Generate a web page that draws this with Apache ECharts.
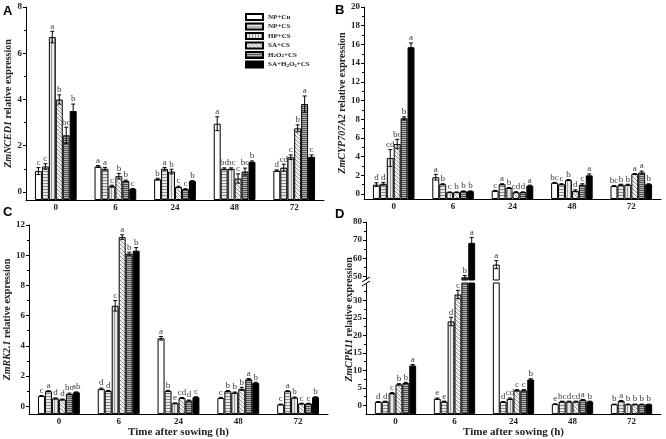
<!DOCTYPE html>
<html><head><meta charset="utf-8">
<script src="https://cdn.jsdelivr.net/npm/echarts@6/dist/echarts.min.js"></script>
<style>html,body{margin:0;padding:0;background:#fff}#c{width:666px;height:439px}</style>
</head><body><div id="c"></div>
<script>
// ---------------- DATA ----------------
const categories = ['0', '6', '24', '48', '72'];
const seriesNames = ['NP+Cu', 'NP+CS', 'HP+CS', 'SA+CS', 'H2O2+CS', 'SA+H2O2+CS'];

// Panel A: ZmNCED1
const aValues = [
  [0.9, 1.1, 0.55, 2.95, 0.92],
  [1.1, 1.0, 1.0, 1.0, 1.05],
  [6.7, 0.25, 0.88, 1.0, 1.5],
  [4.0, 0.68, 0.22, 0.58, 2.75],
  [2.45, 0.48, 0.12, 0.88, 3.8],
  [3.5, 0.13, 0.47, 1.3, 1.52]
];
const aErrors = [
  [0.15, 0.04, 0.04, 0.3, 0.03],
  [0.12, 0.06, 0.06, 0.04, 0.15],
  [0.25, 0.04, 0.1, 0.04, 0.1],
  [0.2, 0.12, 0.03, 0.2, 0.15],
  [0.35, 0.03, 0.02, 0.15, 0.35],
  [0.3, 0.02, 0.02, 0.04, 0.08]
];
const aLetters = [
  ['c', 'a', 'b', 'a', 'd'],
  ['c', 'a', 'a', 'bc', 'cd'],
  ['a', 'c', 'b', 'bc', 'c'],
  ['b', 'b', 'c', 'c', 'b'],
  ['bc', 'b', 'c', 'bc', 'a'],
  ['b', 'c', 'b', 'b', 'c']
];
const aTicks = [0, 2, 4, 6, 8];
const aMinorTicks = [1, 3, 5, 7];

// Panel B: ZmCYP707A2
const bValues = [
  [1.0, 1.8, 0.35, 1.2, 0.85],
  [1.1, 1.05, 1.05, 1.05, 1.0],
  [3.85, 0.2, 0.65, 1.5, 1.0],
  [5.35, 0.2, 0.2, 0.35, 2.15],
  [8.1, 0.3, 0.2, 1.0, 2.3],
  [15.7, 0.3, 0.9, 2.0, 1.05]
];
const bErrors = [
  [0.2, 0.3, 0.05, 0.05, 0.05],
  [0.15, 0.05, 0.05, 0.05, 0.05],
  [0.9, 0.02, 0.05, 0.05, 0.05],
  [0.5, 0.02, 0.05, 0.1, 0.05],
  [0.15, 0.03, 0.03, 0.1, 0.15],
  [0.45, 0.03, 0.05, 0.15, 0.05]
];
const bLetters = [
  ['d', 'a', 'c', 'bc', 'bc'],
  ['d', 'b', 'a', 'c', 'b'],
  ['cd', 'c', 'b', 'b', 'b'],
  ['bc', 'b', 'cd', 'd', 'a'],
  ['b', 'b', 'd', 'c', 'a'],
  ['a', 'b', 'a', 'a', 'b']
];
const bTicks = [0, 2, 4, 6, 8, 10, 12, 14, 16, 18, 20];
const bMinorTicks = [1, 3, 5, 7, 9, 11, 13, 15, 17, 19];

// Panel C: ZmRK2.1
const cValues = [
  [0.68, 1.15, 4.5, 0.55, 0.12],
  [1.0, 1.02, 1.02, 1.0, 1.0],
  [0.52, 6.65, 0.2, 0.9, 0.58],
  [0.45, 11.2, 0.55, 1.15, 0.18],
  [0.82, 10.1, 0.38, 1.78, 0.18],
  [0.92, 10.3, 0.6, 1.55, 0.6]
];
const cErrors = [
  [0.03, 0.05, 0.12, 0.04, 0.02],
  [0.03, 0.03, 0.03, 0.04, 0.03],
  [0.03, 0.35, 0.02, 0.04, 0.03],
  [0.03, 0.15, 0.03, 0.1, 0.02],
  [0.05, 0.1, 0.03, 0.05, 0.02],
  [0.03, 0.2, 0.03, 0.04, 0.03]
];
const cLetters = [
  ['c', 'd', 'a', 'c', 'c'],
  ['a', 'd', 'b', 'b', 'a'],
  ['d', 'c', 'e', 'b', 'b'],
  ['d', 'a', 'cd', 'b', 'c'],
  ['bc', 'b', 'd', 'a', 'c'],
  ['ab', 'b', 'c', 'b', 'b']
];
const cTicks = [0, 2, 4, 6, 8, 10, 12];
const cMinorTicks = [1, 3, 5, 7, 9, 11];

// Panel D: ZmCPK11 (broken axis)
const dValues = [
  [1.0, 1.9, 56.5, 0.35, 0.3],
  [1.1, 1.1, 1.0, 1.1, 1.3],
  [3.5, 24, 1.9, 1.1, 0.3],
  [6.0, 31.7, 4.3, 1.1, 0.3],
  [6.4, 49.5, 4.3, 1.6, 0.3],
  [11.4, 68.5, 7.4, 1.1, 0.3]
];
const dErrors = [
  [0.1, 0.2, 2.2, 0.1, 0.05],
  [0.1, 0.1, 0.1, 0.1, 0.1],
  [0.2, 1.2, 0.2, 0.1, 0.05],
  [0.2, 1.2, 0.2, 0.1, 0.05],
  [0.2, 1.0, 0.2, 0.1, 0.05],
  [0.3, 3.0, 0.2, 0.1, 0.05]
];
const dLetters = [
  ['d', 'e', 'a', 'e', 'b'],
  ['d', 'e', 'd', 'bc', 'a'],
  ['c', 'd', 'cd', 'd', 'b'],
  ['b', 'c', 'c', 'cd', 'b'],
  ['b', 'b', 'c', 'a', 'b'],
  ['a', 'a', 'b', 'b', 'b']
];
const dLowTicks = [0, 5, 10, 15, 20, 25, 30];
const dLowMinorTicks = [2.5, 7.5, 12.5, 17.5, 22.5, 27.5, 32.5];
const dHighTicks = [50, 60, 70, 80];
const dHighMinorTicks = [55, 65, 75];

// ---------------- STYLE ----------------
const SERIF = 'Liberation Serif';
const GAP = 0.3;

function pattern(w, h, bg, draw) {
  const cv = document.createElement('canvas');
  cv.width = w; cv.height = h;
  const ctx = cv.getContext('2d');
  ctx.fillStyle = bg; ctx.fillRect(0, 0, w, h);
  draw(ctx);
  return { image: cv, repeat: 'repeat' };
}
const fills = [
  '#ffffff',
  pattern(4, 3, '#e8e8e8', c => { c.fillStyle = '#8a8a8a'; c.fillRect(0, 0, 4, 1); }),
  pattern(3, 4, '#e8e8e8', c => { c.fillStyle = '#9a9a9a'; c.fillRect(0, 0, 1, 4); }),
  pattern(4, 4, '#f0f0f0', c => { c.fillStyle = '#959595'; for (let i = 0; i < 4; i++) c.fillRect(i, i, 1, 1); }),
  pattern(4, 2, '#b4b4b4', c => { c.fillStyle = '#555555'; c.fillRect(0, 0, 4, 1); }),
  '#000000'
];

const grids = [
  { left: 26, top: 7, width: 298, height: 193 },   // A
  { left: 364, top: 7, width: 297, height: 192 },  // B
  { left: 29, top: 225, width: 299, height: 192 }, // C
  { left: 366, top: 222, width: 295, height: 58 }, // D upper
  { left: 366, top: 283, width: 295, height: 134 },// D lower
  { left: 366, top: 222, width: 295, height: 195 } // D name holder
];

const xAxes = [];
const yAxes = [];
const series = [];
const catLabel = { margin: 3, fontFamily: SERIF, fontWeight: 'bold', fontSize: 9, color: '#222' };
const nameStyle = { fontFamily: SERIF, fontWeight: 'bold', fontSize: 10, color: '#222',
  rich: { i: { fontFamily: SERIF, fontWeight: 'bold', fontStyle: 'italic', fontSize: 10, color: '#222' } } };

function addX(gridIndex, show, name) {
  xAxes.push({
    type: 'category', gridIndex, data: categories, show,
    axisLine: { onZero: false, lineStyle: { color: '#000', width: 1 } },
    axisTick: { show: false },
    axisLabel: catLabel,
    name: name || '', nameLocation: 'middle', nameGap: 10,
    nameTextStyle: { fontFamily: SERIF, fontWeight: 'bold', fontSize: 11, color: '#222' }
  });
  return xAxes.length - 1;
}
function addY(gridIndex, min, max, major, minor, name, nameGap, base) {
  const ax = {
    type: 'value', gridIndex, min, max, position: 'left',
    axisLine: { show: true, onZero: false, lineStyle: { color: '#000', width: 1 } },
    axisTick: { show: true, customValues: major, length: 3, lineStyle: { color: '#000' } },
    axisLabel: { customValues: major, margin: 4, fontFamily: SERIF, fontWeight: 'bold', fontSize: 9, color: '#222' },
    splitLine: { show: false },
    name: name || '', nameLocation: 'middle', nameGap: nameGap || 10, nameTextStyle: nameStyle
  };
  if (base !== undefined) ax.startValue = base;
  yAxes.push(ax);
  const idx = yAxes.length - 1;
  yAxes.push({
    type: 'value', gridIndex, min, max, position: 'left',
    axisLine: { show: false },
    axisTick: { show: true, customValues: minor, length: 2, lineStyle: { color: '#000' } },
    axisLabel: { show: false },
    splitLine: { show: false }
  });
  return idx;
}
function addBars(xi, yi, values) {
  values.forEach((vals, s) => {
    series.push({
      type: 'bar', name: seriesNames[s], xAxisIndex: xi, yAxisIndex: yi,
      data: vals, barGap: '0%', barCategoryGap: (GAP * 100) + '%', clip: true,
      itemStyle: { color: fills[s], borderColor: '#000', borderWidth: 1 },
      emphasis: { disabled: true }
    });
  });
}
function addErr(xi, yi, values, errors, letters, keep) {
  const rows = [], lets = [];
  values.forEach((vals, s) => vals.forEach((v, i) => {
    if (keep(v)) { rows.push([i, v, errors[s][i], s]); lets.push(letters[s][i]); }
  }));
  series.push({
    type: 'custom', xAxisIndex: xi, yAxisIndex: yi, data: rows, silent: true, z: 10, clip: false,
    renderItem(params, api) {
      const i = api.value(0), v = api.value(1), e = api.value(2), s = api.value(3);
      const band = api.size([1, 0])[0];
      const group = band * (1 - GAP);
      const bw = group / 6;
      const c = api.coord([i, v]);
      const x = c[0] - group / 2 + bw * (s + 0.5);
      const top = api.coord([i, v + e])[1];
      const bot = api.coord([i, v - e])[1];
      const cap = 2;
      const ls = { stroke: '#000', lineWidth: 1 };
      return { type: 'group', children: [
        { type: 'line', shape: { x1: x, y1: top, x2: x, y2: bot }, style: ls },
        { type: 'line', shape: { x1: x - cap, y1: top, x2: x + cap, y2: top }, style: ls },
        { type: 'line', shape: { x1: x - cap, y1: bot, x2: x + cap, y2: bot }, style: ls },
        { type: 'text', x: x, y: top - 0.5, style: { text: lets[params.dataIndex], textAlign: 'center',
          textVerticalAlign: 'bottom', fontFamily: SERIF, fontSize: 9, fill: '#3a3a3a' } }
      ] };
    }
  });
}

// A
let xi = addX(0, true), yi = addY(0, -0.35, 8, aTicks, aMinorTicks, '{i|ZmNCED1} relative expression', 6, -0.35);
addBars(xi, yi, aValues); addErr(xi, yi, aValues, aErrors, aLetters, () => true);
// B
xi = addX(1, true); yi = addY(1, -0.53, 20, bTicks, bMinorTicks, '{i|ZmCYP707A2} relative expression', 12, -0.53);
addBars(xi, yi, bValues); addErr(xi, yi, bValues, bErrors, bLetters, () => true);
// C
xi = addX(2, true, 'Time after sowing (h)'); yi = addY(2, -0.52, 12, cTicks, cMinorTicks, '{i|ZmRK2.1} relative expression', 10, -0.52);
addBars(xi, yi, cValues); addErr(xi, yi, cValues, cErrors, cLetters, () => true);
// D upper
xi = addX(3, false); yi = addY(3, 48, 80, dHighTicks, dHighMinorTicks, '', 10);
addBars(xi, yi, dValues); addErr(xi, yi, dValues, dErrors, dLetters, v => v >= 40);
// D lower
xi = addX(4, true, 'Time after sowing (h)'); yi = addY(4, -2.5, 35, dLowTicks, dLowMinorTicks, '', 10, -2.5);
addBars(xi, yi, dValues); addErr(xi, yi, dValues, dErrors, dLetters, v => v < 40);
// D name holder
addX(5, false);
yAxes.push({ type: 'value', gridIndex: 5, min: 0, max: 1, position: 'left',
  axisLine: { show: false }, axisTick: { show: false }, axisLabel: { show: false }, splitLine: { show: false },
  name: '{i|ZmCPK11} relative expression', nameLocation: 'middle', nameGap: 12, nameTextStyle: nameStyle });

const panelTitle = (t, l, tp) => ({ text: t, left: l, top: tp, padding: 0,
  textStyle: { fontFamily: 'Liberation Sans', fontWeight: 'bold', fontSize: 13, color: '#000' } });

const chart = echarts.init(document.getElementById('c'), null, { renderer: 'canvas' });
chart.setOption({
  animation: false,
  backgroundColor: '#fff',
  title: [panelTitle('A', 3, 5), panelTitle('B', 335, 4), panelTitle('C', 3, 206), panelTitle('D', 335, 208)],
  legend: {
    data: seriesNames, orient: 'vertical', left: 245, top: 13, padding: 0,
    itemWidth: 17, itemHeight: 6, itemGap: 1.5, icon: 'rect', selectedMode: false,
    formatter: n => n.replace(/H2O2/, 'H{s|2}O{s|2}'),
    textStyle: { fontFamily: SERIF, fontWeight: 'bold', fontSize: 7, color: '#222', lineHeight: 7,
      rich: { s: { fontFamily: SERIF, fontWeight: 'bold', fontSize: 5, color: '#222', verticalAlign: 'bottom', lineHeight: 7 } } }
  },
  grid: grids,
  xAxis: xAxes,
  yAxis: yAxes,
  series: series
});

// break marks on D's y axis
const yHighBottom = chart.convertToPixel({ yAxisIndex: 6 }, 48);
const yLowTop = chart.convertToPixel({ yAxisIndex: 8 }, 35);
const ax = grids[3].left;
chart.setOption({
  graphic: [
    { type: 'rect', shape: { x: ax - 4, y: yHighBottom, width: 8, height: yLowTop - yHighBottom }, style: { fill: '#fff' }, z: 50 },
    { type: 'line', shape: { x1: ax - 4, y1: yHighBottom + 2, x2: ax + 4, y2: yHighBottom - 3 }, style: { stroke: '#000', lineWidth: 1 }, z: 51 },
    { type: 'line', shape: { x1: ax - 4, y1: yLowTop + 3, x2: ax + 4, y2: yLowTop - 2 }, style: { stroke: '#000', lineWidth: 1 }, z: 51 }
  ]
});
</script></body></html>
